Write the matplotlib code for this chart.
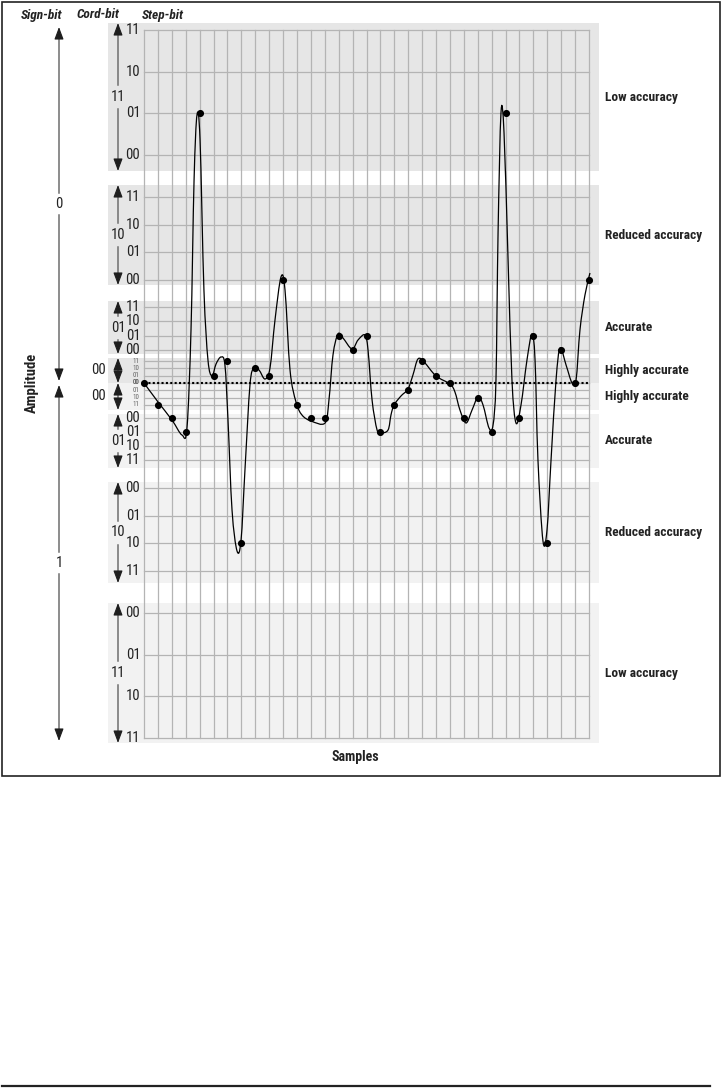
import numpy as np
import matplotlib
matplotlib.use('Agg')
import matplotlib.pyplot as plt
from matplotlib.path import Path
from matplotlib.patches import PathPatch, Rectangle
from matplotlib import font_manager

# pick a narrow font if there is one
installed = {f.name for f in font_manager.fontManager.ttflist}
fams = [n for n in ['Roboto Condensed', 'Liberation Sans Narrow', 'DejaVu Sans Condensed',
                    'Open Sans Condensed', 'Roboto', 'Liberation Sans'] if n in installed]
plt.rcParams['font.family'] = fams + ['DejaVu Sans']

# ---- data ----
chord_names = {'11': 'Low accuracy', '10': 'Reduced accuracy',
               '01': 'Accurate', '00': 'Highly accurate'}
step_codes = ['00', '01', '10', '11']
sign_labels = ['0', '1']

# quantised samples: sign-bit, chord-bit, step-bit
sample_codes = ['0 00 00', '1 00 11', '1 01 00', '1 01 01', '0 11 01', '0 00 01',
                '0 00 11', '1 10 10', '0 00 10', '0 00 01', '0 10 00', '1 00 11',
                '1 01 00', '1 01 00', '0 01 01', '0 01 00', '0 01 01', '1 01 01',
                '1 00 11', '1 00 01', '0 00 11', '0 00 01', '0 00 00', '1 01 00',
                '1 00 10', '1 01 01', '0 11 01', '1 01 00', '0 01 01', '1 10 10',
                '0 01 00', '0 00 00', '0 10 00']

# analog signal (sample position, amplitude above zero line)
curve_t = [0.00, 1.01, 2.01, 2.73, 3.09, 3.38, 3.60, 3.81, 4.03, 4.31, 4.60, 4.89,
           5.18, 5.54, 5.82, 6.04, 6.33, 6.69, 6.98, 7.26, 7.62, 7.91, 8.27, 8.70,
           9.06, 9.42, 9.85, 10.14, 10.50, 10.93, 11.36, 12.01, 13.02, 13.30, 13.59,
           13.95, 14.31, 14.96, 15.39, 15.89, 16.11, 16.40, 16.76, 17.04, 17.55,
           17.76, 17.98, 18.48, 18.98, 19.34, 19.70, 20.14, 21.00, 22.00, 22.36,
           22.72, 23.16, 23.59, 24.02, 24.38, 24.81, 25.10, 25.31, 25.46, 25.67,
           25.89, 26.18, 26.46, 26.75, 27.11, 27.54, 27.90, 28.12, 28.33, 28.69,
           28.98, 29.27, 29.63, 29.92, 30.35, 30.78, 31.07, 31.35, 31.71, 32.07]
curve_a = [0, -19, -37, -52, -45, 53, 203, 268, 243, 93, 23, 7,
           19, 26, 18, -37, -127, -168, -157, -87, -2, 15, 13, 4,
           15, 63, 106, 93, 13, -19, -32, -38, -40, -17, 28,
           49, 45, 34, 43, 48, 33, -17, -47, -50, -47,
           -32, -22, -13, -6, 8, 24, 21, 7, -1, -9,
           -27, -40, -27, -14, -22, -45, -42, 3, 150, 270,
           250, 123, 3, -40, -22, 23, 49, 23, -77, -158,
           -147, -77, 3, 35, 18, 0, 3, 53, 88, 110]

# ---- layout (pixel space) ----
W, H = 722, 1089
GX0, GX1 = 144, 589
N_INT = 32
DX = (GX1 - GX0) / N_INT
CENTER = 383
BG_X0, BG_X1 = 108, 599
GRID_TOP, GRID_BOT = 30, 738
# (sign, chord) -> y of step 00, step spacing, background top, background bottom
SEG = {
    ('0', '11'): (155, 41.7, 23, 171),
    ('0', '10'): (280, 27.7, 185, 285),
    ('0', '01'): (350, 14.3, 301, 354),
    ('0', '00'): (383, 7.3, 358, 383),
    ('1', '00'): (383, 7.3, 383, 410),
    ('1', '01'): (418, 14.0, 414, 468),
    ('1', '10'): (488, 27.7, 482, 583),
    ('1', '11'): (613, 41.7, 603, 743),
}
SIGN_SPAN = {'0': (27, 381), '1': (385, 741)}
INK = '#222222'
FS_NUM = 10.5
FS_NAME = 9.6


def level_y(sign, chord, step):
    y00, dy = SEG[(sign, chord)][:2]
    k = step_codes.index(step)
    return y00 - k * dy if sign == '0' else y00 + k * dy


fig = plt.figure(figsize=(W / 100, H / 100), dpi=100)
ax = fig.add_axes([0, 0, 1, 1])
ax.set_xlim(0, W)
ax.set_ylim(H, 0)
ax.axis('off')

GRID = '#b4b4b4'
SHAFT = '#6e6e6e'

# backgrounds
for (sign, chord), (y00, dy, b0, b1) in SEG.items():
    fc = '#e6e6e6' if sign == '0' else '#f2f2f2'
    ax.add_patch(Rectangle((BG_X0, b0), BG_X1 - BG_X0, b1 - b0, fc=fc, ec='none', zorder=0))

# grid
for i in range(N_INT + 1):
    x = GX0 + i * DX
    ax.plot([x, x], [GRID_TOP, GRID_BOT], color=GRID, lw=0.9, zorder=1)
for (sign, chord) in SEG:
    for s in step_codes:
        y = level_y(sign, chord, s)
        ax.plot([GX0, GX1], [y, y], color=GRID, lw=0.9, zorder=1)

ax.plot([GX0, GX1], [CENTER, CENTER], color='k', lw=1.5, ls=(0, (1, 1.1)), zorder=3)

# analog curve, Catmull-Rom through the read points
pts = np.column_stack([GX0 + np.array(curve_t) * DX, CENTER - np.array(curve_a)])
verts = [pts[0]]
codes = [Path.MOVETO]
n = len(pts)
for i in range(n - 1):
    p0 = pts[max(i - 1, 0)]
    p1 = pts[i]
    p2 = pts[i + 1]
    p3 = pts[min(i + 2, n - 1)]
    verts += [p1 + (p2 - p0) / 6, p2 - (p3 - p1) / 6, p2]
    codes += [Path.CURVE4] * 3
ax.add_patch(PathPatch(Path(verts, codes), fill=False, lw=0.9, ec='k', zorder=4))

# quantised samples
sx = [GX0 + i * DX for i in range(len(sample_codes))]
sy = [level_y(*c.split()) for c in sample_codes]
ax.plot(sx, sy, 'o', color='k', ms=4.1, zorder=5)


def head(x, tip, direction):
    # direction -1: points up, +1: points down
    ax.annotate('', xy=(x, tip), xytext=(x, tip - direction * 9),
                arrowprops=dict(arrowstyle='-|>,head_length=0.75,head_width=0.28',
                                color='#1e1e1e', lw=0.8, shrinkA=0, shrinkB=0), zorder=6)


def split_arrow(x, top, bot, label, gap, fs):
    mid = (top + bot) / 2
    ax.plot([x, x], [top + 4, mid - gap], color=SHAFT, lw=1.1, zorder=5)
    ax.plot([x, x], [mid + gap, bot - 4], color=SHAFT, lw=1.1, zorder=5)
    head(x, top, -1)
    head(x, bot, 1)
    ax.text(x, mid, label, ha='center', va='center', fontsize=fs, color=INK, zorder=6)


# sign-bit arrows
for sign in sign_labels:
    t, b = SIGN_SPAN[sign]
    split_arrow(59, t, b, sign, 11, FS_NUM)

# chord arrows, step labels, accuracy labels
for (sign, chord), (y00, dy, b0, b1) in SEG.items():
    mid = (b0 + b1) / 2
    if chord == '00':
        ax.plot([118, 118], [b0 + 3, b1 - 3], color=SHAFT, lw=1.1, zorder=5)
        head(118, b0, -1)
        head(118, b1, 1)
        ax.text(98, mid, chord, ha='center', va='center', fontsize=FS_NUM, color=INK)
    else:
        split_arrow(118, b0, b1, chord, 12, FS_NUM)
    for s in step_codes:
        y = level_y(sign, chord, s)
        if chord == '00':
            ax.text(136, y, s, ha='center', va='center', fontsize=5, color='#666')
        else:
            ax.text(133, y, s, ha='center', va='center', fontsize=FS_NUM, color=INK)
    ax.text(605, mid, chord_names[chord], ha='left', va='center',
            fontsize=FS_NAME, fontweight='bold', color=INK)

# headers and axis names
ax.text(42, 15, 'Sign-bit', ha='center', va='center', fontsize=FS_NAME,
        fontweight='bold', style='italic', color=INK)
ax.text(98, 15, 'Cord-bit', ha='center', va='center', fontsize=FS_NAME,
        fontweight='bold', style='italic', color=INK)
ax.text(142, 15, 'Step-bit', ha='left', va='center', fontsize=FS_NAME,
        fontweight='bold', style='italic', color=INK)
ax.text(32, CENTER, 'Amplitude', ha='center', va='center', rotation=90,
        fontsize=10.5, fontweight='bold', color=INK)
ax.text(355, 757, 'Samples', ha='center', va='center', fontsize=FS_NAME + 0.4,
        fontweight='bold', color=INK)

# frame and bottom rule
ax.add_patch(Rectangle((2, 2), 718, 774, fill=False, ec=INK, lw=1.2, zorder=7))
ax.plot([2, 710], [1086, 1086], color=INK, lw=1.6)

fig.savefig('out.png', dpi=100)
